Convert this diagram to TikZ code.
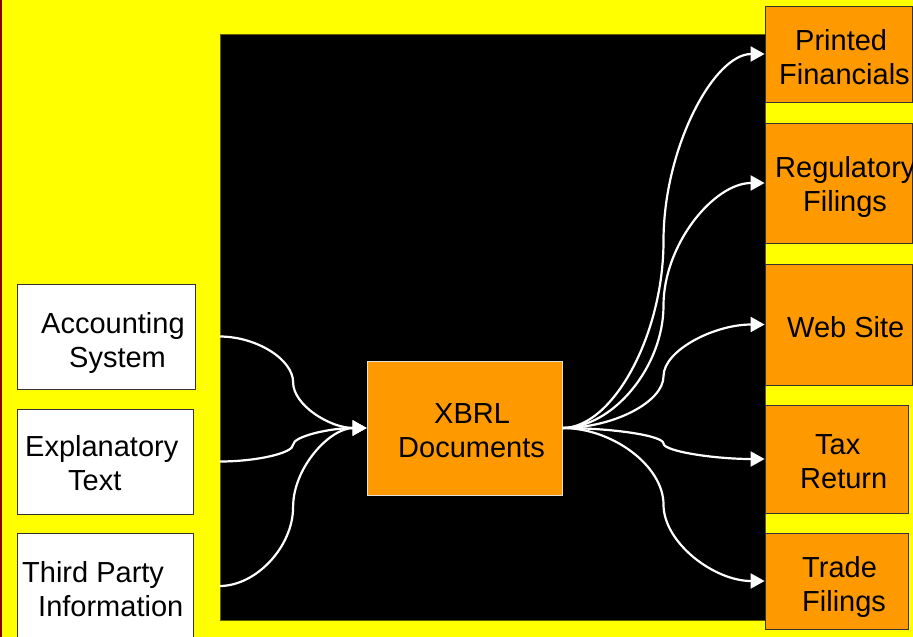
\documentclass[tikz,border=0pt]{standalone}
\usepackage{fontspec}
\setmainfont{Liberation Sans}
\usetikzlibrary{arrows.meta,calc}
\definecolor{bgyellow}{RGB}{255,255,0}
\definecolor{edgered}{RGB}{128,0,0}
\definecolor{boxorange}{RGB}{255,153,0}
\definecolor{boxedge}{RGB}{51,51,51}
\definecolor{paneledge}{RGB}{96,96,0}
\definecolor{xbrledge}{RGB}{224,224,224}
\tikzset{
  pptcurve/.style={to path={
    let \p1=(\tikztostart), \p2=(\tikztotarget) in
    .. controls ({(3*\x1+\x2)/4},\y1) and ({(\x1+\x2)/2},{(3*\y1+\y2)/4}) ..
    ({(\x1+\x2)/2},{(\y1+\y2)/2})
    .. controls ({(\x1+\x2)/2},{(\y1+3*\y2)/4}) and ({(\x1+3*\x2)/4},\y2) ..
    (\tikztotarget) \tikztonodes}},
  conn/.style={draw=white, line width=2.2pt, -{Triangle[length=14pt,width=15pt]}, pptcurve},
  whitebox/.style={draw=boxedge, fill=white, line width=0.8pt, inner sep=0pt},
  orangebox/.style={draw=boxedge, fill=boxorange, line width=0.8pt, inner sep=0pt},
  label/.style={anchor=west, inner sep=0pt, align=left, text=black,
    font=\fontsize{29}{34}\selectfont}
}
\begin{document}
\begin{tikzpicture}[x=1pt,y=-1pt]
\useasboundingbox (0,0) rectangle (913,637);
\fill[bgyellow] (0,0) rectangle (913,637);
\fill[edgered] (0,0) rectangle (2,637);
% black panel
\node[draw=paneledge, fill=black, line width=0.8pt, inner sep=0pt,
  minimum width=545, minimum height=586] (panel) at (492.5,327) {};
% input boxes
\node[whitebox, minimum width=178, minimum height=105] (acc) at (106,336.5) {};
\node[whitebox, minimum width=176, minimum height=105] (exp) at (105,461.5) {};
\node[whitebox, minimum width=176, minimum height=106] (thp) at (105,586) {};
% central box
\node[draw=xbrledge, fill=boxorange, line width=0.8pt, inner sep=0pt,
  minimum width=195, minimum height=134] (xbrl) at (464.5,428) {};
% output boxes
\node[orangebox, minimum width=147, minimum height=96] (prn) at (838.5,54) {};
\node[orangebox, minimum width=147, minimum height=120] (reg) at (838.5,183) {};
\node[orangebox, minimum width=147, minimum height=121] (web) at (838.5,324.5) {};
\node[orangebox, minimum width=143, minimum height=108] (tax) at (836.5,459) {};
\node[orangebox, minimum width=143, minimum height=96] (trd) at (836.5,581) {};
% texts
\node[label] (accT) at (41,343) {Accounting\\\hspace*{28pt}System};
\node[label] (expT) at (25,463) {Explanatory\\\hspace*{43pt}Text};
\node[label] (thpT) at (22,589) {Third Party\\\hspace*{16pt}Information};
\node[label] (xbrlT) at (398,430.5) {\hspace*{36pt}XBRL\\Documents};
\node[label] (prnT) at (779,57) {\hspace*{16pt}Printed\\Financials};
\node[label] (regT) at (775,187) {Regulatory\\\hspace*{28pt}Filings};
\node[label] (webT) at (787,327.5) {Web Site};
\node[label] (taxT) at (800,462) {\hspace*{15pt}Tax\\Return};
\node[label] (trdT) at (802,587) {Trade\\Filings};
% connectors in
\draw[conn] (panel.west |- acc.east) to (xbrl.west);
\draw[conn] (panel.west |- exp.east) to (xbrl.west);
\draw[conn] (panel.west |- thp.east) to (xbrl.west);
% connectors out
\draw[conn] (xbrl.east) to (prn.west);
\draw[conn] (xbrl.east) to (reg.west);
\draw[conn] (xbrl.east) to (web.west);
\draw[conn] (xbrl.east) to (tax.west);
\draw[conn] (xbrl.east) to (trd.west);
\end{tikzpicture}
\end{document}
